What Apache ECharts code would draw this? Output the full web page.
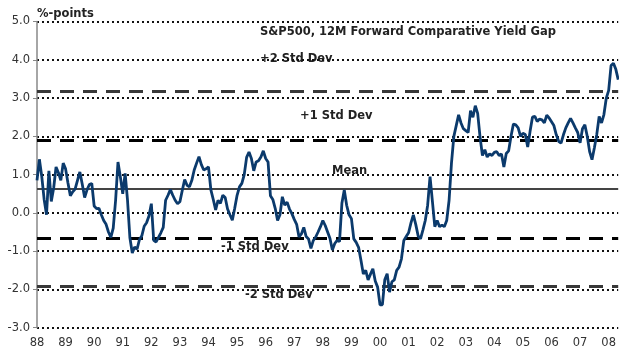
<!DOCTYPE html>
<html>
<head>
<meta charset="utf-8">
<title>S&amp;P500 Comparative Yield Gap</title>
<script src="https://cdn.jsdelivr.net/npm/echarts@6/dist/echarts.min.js"></script>
<style>
    html, body { margin: 0; padding: 0; background: #fff; }
    #chart { width: 619px; height: 349px; }
</style>
</head>
<body>
<div id="chart"></div>
<script>
// year tick labels (Jan of each year)
var years = ['88', '89', '90', '91', '92', '93', '94', '95', '96', '97', '98',
             '99', '00', '01', '02', '03', '04', '05', '06', '07', '08'];

// monthly yield gap, %-points, Jan 1988 - May 2008
var gap = [
    0.85, 1.40, 0.95, 0.35, -0.05, 1.10, 0.30, 0.65, 1.20, 1.05, 0.85, 1.30,
    1.15, 0.78, 0.45, 0.55, 0.62, 0.85, 1.07, 0.75, 0.40, 0.60, 0.74, 0.77,
    0.18, 0.11, 0.12, -0.05, -0.20, -0.30, -0.50, -0.64, -0.40, 0.33, 1.33, 0.94,
    0.50, 1.03, 0.33, -0.65, -1.05, -0.89, -0.95, -0.70, -0.60, -0.35, -0.26, -0.08,
    0.24, -0.72, -0.76, -0.64, -0.52, -0.38, 0.33, 0.46, 0.61, 0.46, 0.33, 0.24,
    0.29, 0.59, 0.87, 0.72, 0.68, 0.85, 1.12, 1.30, 1.47, 1.26, 1.12, 1.15,
    1.20, 0.60, 0.35, 0.08, 0.33, 0.25, 0.46, 0.40, 0.10, -0.05, -0.19, 0.12,
    0.46, 0.68, 0.77, 1.00, 1.45, 1.59, 1.42, 1.10, 1.33, 1.36, 1.46, 1.62,
    1.42, 1.33, 0.45, 0.35, 0.12, -0.20, -0.05, 0.42, 0.20, 0.28, 0.10, -0.02,
    -0.17, -0.30, -0.63, -0.55, -0.38, -0.62, -0.68, -0.93, -0.72, -0.63, -0.50, -0.36,
    -0.20, -0.33, -0.50, -0.67, -0.97, -0.80, -0.72, -0.75, 0.25, 0.60, 0.20, -0.05,
    -0.15, -0.68, -0.77, -0.90, -1.24, -1.60, -1.50, -1.75, -1.60, -1.46, -1.78, -1.94,
    -2.40, -2.40, -1.75, -1.59, -2.07, -1.80, -1.75, -1.50, -1.42, -1.20, -0.72, -0.62,
    -0.52, -0.26, -0.05, -0.30, -0.60, -0.68, -0.45, -0.20, 0.20, 0.95, 0.30, -0.36,
    -0.20, -0.36, -0.32, -0.36, -0.20, 0.33, 1.30, 2.00, 2.28, 2.56, 2.35, 2.20,
    2.15, 2.10, 2.67, 2.50, 2.80, 2.60, 1.98, 1.50, 1.65, 1.46, 1.54, 1.50,
    1.58, 1.60, 1.50, 1.54, 1.20, 1.55, 1.62, 2.00, 2.32, 2.30, 2.22, 2.00,
    2.08, 2.05, 1.72, 2.13, 2.50, 2.52, 2.39, 2.45, 2.43, 2.35, 2.55, 2.48,
    2.38, 2.28, 2.04, 1.87, 1.82, 2.04, 2.22, 2.35, 2.47, 2.35, 2.22, 2.10,
    1.83, 2.20, 2.30, 2.00, 1.60, 1.39, 1.70, 2.05, 2.52, 2.35, 2.57, 3.00,
    3.20, 3.85, 3.91, 3.75, 3.48
];

// mean and standard deviation bands
var levels = [3.19, 1.91, 0.63, -0.65, -1.93];
var levelNames = ['+2 Std Dev', '+1 Std Dev', 'Mean', '-1 Std Dev', '-2 Std Dev'];

var months = [];
for (var i = 0; i < gap.length; i++) {
    months.push(years[Math.floor(i / 12)] + '-' + (i % 12 + 1));
}

var txtFont = 'DejaVu Sans';
var chart = echarts.init(document.getElementById('chart'));

var bandLines = levels.map(function (v, i) {
    var style;
    if (i === 2) {
        style = { color: '#444', width: 2, type: 'solid' };
    } else if (i === 1 || i === 3) {
        style = { color: '#000', width: 3, type: [14, 9] };
    } else {
        style = { color: '#383838', width: 3, type: [14, 9] };
    }
    return { yAxis: v, name: levelNames[i], lineStyle: style };
});

function note(text, x, y) {
    return {
        type: 'text', left: x, top: y,
        style: { text: text, fill: '#222', font: 'bold 11.5px ' + txtFont }
    };
}

var option = {
    animation: false,
    grid: { left: 37, right: 0, top: 21.5, bottom: 21.3 },
    xAxis: {
        type: 'category',
        data: months,
        boundaryGap: false,
        axisLine: { show: false },
        axisTick: { show: false },
        splitLine: { show: false },
        axisLabel: {
            interval: 11,
            margin: 9,
            color: '#333',
            fontFamily: txtFont,
            fontSize: 11.5,
            formatter: function (v) { return v.split('-')[0]; }
        }
    },
    yAxis: {
        type: 'value',
        min: -3,
        max: 5,
        interval: 1,
        axisLine: { show: true, lineStyle: { color: '#888', width: 1.5 } },
        axisTick: { show: true, length: 4, lineStyle: { color: '#888' } },
        axisLabel: {
            margin: 7,
            color: '#333',
            fontFamily: txtFont,
            fontSize: 11.5,
            formatter: function (v) { return v.toFixed(1); }
        },
        splitLine: { show: true, lineStyle: { color: '#111', width: 2, type: [2, 3] } }
    },
    series: [{
        name: 'Yield Gap',
        type: 'line',
        data: gap,
        showSymbol: false,
        lineStyle: { color: '#0b3a6c', width: 2.8 },
        z: 3,
        markLine: {
            silent: true,
            symbol: 'none',
            label: { show: false },
            z: 2,
            data: bandLines
        }
    }],
    graphic: [
        note('%-points', 37, 8),
        note('S&P500, 12M Forward Comparative Yield Gap', 260, 26),
        note('+2 Std Dev', 260, 53),
        note('+1 Std Dev', 300, 110),
        note('Mean', 332, 165),
        note('-1 Std Dev', 221, 241),
        note('-2 Std Dev', 245, 289)
    ]
};
chart.setOption(option);
</script>
</body>
</html>
